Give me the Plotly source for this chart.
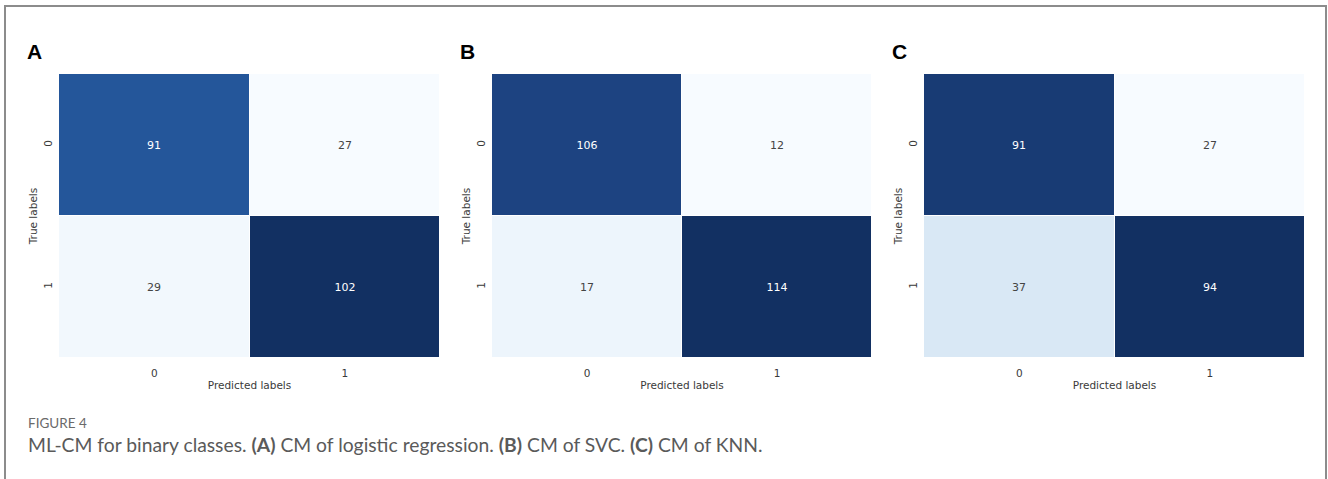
import plotly.graph_objects as go

W, H = 1328, 479

# Confusion-matrix data for the three classifiers
class_labels = ["0", "1"]
cm_logreg = [[91, 27], [29, 102]]
cm_svc = [[106, 12], [17, 114]]
cm_knn = [[91, 27], [37, 94]]
panel_letters = ["A", "B", "C"]
matrices = [cm_logreg, cm_svc, cm_knn]

# Blues sequential colour scale
blues = [
    [0.0, "#f7fbff"],
    [0.125, "#deebf7"],
    [0.25, "#c6dbef"],
    [0.375, "#9ecae1"],
    [0.5, "#6baed6"],
    [0.625, "#4292c6"],
    [0.75, "#2675b4"],
    [0.875, "#234f94"],
    [1.0, "#123062"],
]

# pixel boxes of each heatmap (left, right, top, bottom)
boxes = [(59, 440, 74, 358), (492, 872, 74, 358), (924, 1305, 74, 358)]

fig = go.Figure()
tick_font = dict(family="DejaVu Sans", size=10.5, color="#3a3a3a")

for i, (cm, box, letter) in enumerate(zip(matrices, boxes, panel_letters)):
    l, r, t, b = box
    flat = [v for row in cm for v in row]
    xa = "x" if i == 0 else f"x{i+1}"
    ya = "y" if i == 0 else f"y{i+1}"
    fig.add_trace(go.Heatmap(
        z=cm, x=class_labels, y=class_labels,
        colorscale=blues, zmin=min(flat), zmax=max(flat),
        showscale=False, xgap=1, ygap=1,
        texttemplate="%{z}",
        textfont=dict(family="DejaVu Sans", size=11),
        xaxis=xa, yaxis=ya, hoverinfo="skip",
    ))
    xkey = "xaxis" if i == 0 else f"xaxis{i+1}"
    ykey = "yaxis" if i == 0 else f"yaxis{i+1}"
    fig.layout[xkey] = dict(
        domain=[l / W, r / W], anchor=ya,
        showgrid=False, zeroline=False, showline=False, ticks="",
        tickfont=tick_font, ticklabelstandoff=7,
        title=dict(text="Predicted labels", font=tick_font, standoff=4),
        fixedrange=True,
    )
    fig.layout[ykey] = dict(
        domain=[1 - b / H, 1 - t / H], anchor=xa,
        autorange="reversed",
        showgrid=False, zeroline=False, showline=False, ticks="",
        tickfont=tick_font, tickangle=-90, ticklabelstandoff=4,
        title=dict(text="True labels", font=tick_font, standoff=2),
        fixedrange=True,
    )
    fig.add_annotation(
        x=(l - 34) / W, y=1 - 51 / H, xref="paper", yref="paper",
        text=f"<b>{letter}</b>", showarrow=False, xanchor="left", yanchor="middle",
        font=dict(family="Liberation Sans", size=21, color="#000000"),
    )

# caption
fig.add_annotation(
    x=26 / W, y=1 - 423 / H, xref="paper", yref="paper",
    text="FIGURE 4", showarrow=False, xanchor="left", yanchor="middle",
    font=dict(family="Lato", size=13.5, color="#6a6a6a"),
)
fig.add_annotation(
    x=26 / W, y=1 - 444 / H, xref="paper", yref="paper",
    text="ML-CM for binary classes. <b>(A)</b> CM of logistic regression. "
         "<b>(B)</b> CM of SVC. <b>(C)</b> CM of KNN.",
    showarrow=False, xanchor="left", yanchor="middle",
    font=dict(family="Lato", size=19.3, color="#5a5a5a"),
)

# figure frame
fig.add_shape(
    type="rect", xref="paper", yref="paper",
    x0=5 / W, x1=1326 / W, y0=-0.05, y1=1 - 6 / H,
    line=dict(color="#8c8c8c", width=2), fillcolor="rgba(0,0,0,0)", layer="above",
)

fig.update_layout(
    width=W, height=H,
    margin=dict(l=0, r=0, t=0, b=0),
    paper_bgcolor="white", plot_bgcolor="white",
    showlegend=False,
)

fig.write_html("out.html")
